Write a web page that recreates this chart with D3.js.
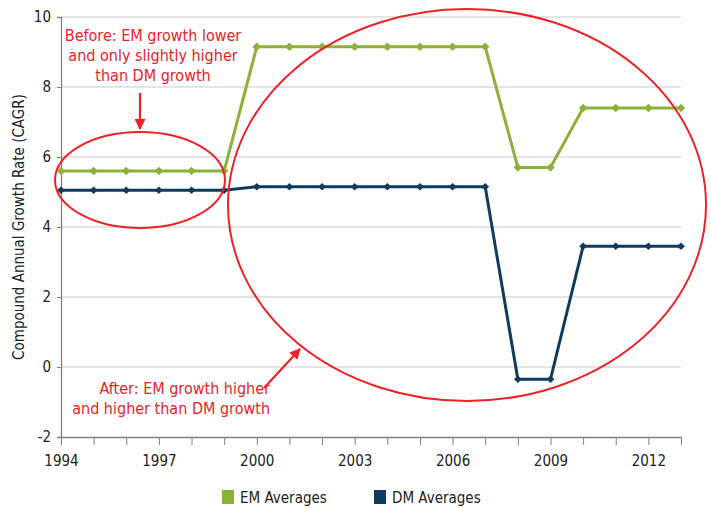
<!DOCTYPE html>
<html>
<head>
<meta charset="utf-8">
<script src="https://cdn.jsdelivr.net/npm/d3@7"></script>
<style>
  body { margin: 0; background: #fff; }
  text { font-family: "Liberation Sans Narrow", "DejaVu Sans Condensed", "Liberation Sans", sans-serif; }
</style>
</head>
<body>
<svg width="711" height="508"></svg>
<script>
// data
var years = d3.range(1994, 2014);
var emValues = [5.6, 5.6, 5.6, 5.6, 5.6, 5.6, 9.15, 9.15, 9.15, 9.15, 9.15, 9.15, 9.15, 9.15, 5.7, 5.7, 7.4, 7.4, 7.4, 7.4];
var dmValues = [5.05, 5.05, 5.05, 5.05, 5.05, 5.05, 5.15, 5.15, 5.15, 5.15, 5.15, 5.15, 5.15, 5.15, -0.35, -0.35, 3.45, 3.45, 3.45, 3.45];
var yTicks = [-2, 0, 2, 4, 6, 8, 10];
var xTickLabels = [1994, 1997, 2000, 2003, 2006, 2009, 2012];
var seriesNames = ["EM Averages", "DM Averages"];
var colors = ["#8cb13a", "#0f3b5f"];
var red = "#ec2227";

var svg = d3.select("svg");
var margin = { top: 17, right: 30, bottom: 71, left: 61 };
var width = 711 - margin.left - margin.right;
var height = 508 - margin.top - margin.bottom;

var chart = svg.append("g")
  .attr("transform", `translate(${margin.left}, ${margin.top})`);

var x = d3.scaleLinear().domain([1994, 2013]).range([0, width]);
var y = d3.scaleLinear().domain([-2, 10]).range([height, 0]);

// grid
chart.append("g")
  .selectAll("line")
  .data(yTicks.filter(d => d > -2))
  .enter().append("line")
  .attr("x1", 0).attr("x2", width)
  .attr("y1", d => y(d)).attr("y2", d => y(d))
  .attr("stroke", "#c9c9c9").attr("stroke-width", 1.2);

// axes
var yAxis = chart.append("g")
  .call(d3.axisLeft(y).tickValues(yTicks).tickSize(4).tickFormat(d => String(d)));
yAxis.select(".domain").attr("stroke", "#808080").attr("stroke-width", 1.3);
yAxis.selectAll(".tick line").attr("stroke", "#808080");
yAxis.selectAll("text").attr("font-size", 15).attr("fill", "#222").attr("dx", "-3");

var xAxis = chart.append("g")
  .attr("transform", "translate(0," + height + ")")
  .call(d3.axisBottom(x).tickValues(years).tickSize(8).tickSizeOuter(0)
    .tickFormat(d => xTickLabels.includes(d) ? d : ""));
xAxis.select(".domain").attr("stroke", "#808080").attr("stroke-width", 1.3);
xAxis.selectAll(".tick line").attr("stroke", "#808080");
xAxis.selectAll("text").attr("font-size", 15).attr("fill", "#222").attr("dy", "1.2em");

// lines
[emValues, dmValues].forEach(function (vals, i) {
  var pts = years.map((yr, j) => [yr, vals[j]]);
  chart.append("path")
    .datum(pts)
    .attr("fill", "none")
    .attr("stroke", colors[i])
    .attr("stroke-width", 3)
    .attr("d", d3.line().x(d => x(d[0])).y(d => y(d[1])));
  chart.append("g")
    .selectAll("path")
    .data(pts)
    .enter().append("path")
    .attr("transform", d => `translate(${x(d[0])},${y(d[1])}) rotate(45)`)
    .attr("d", d3.symbol().type(d3.symbolSquare).size(i === 0 ? 36 : 30))
    .attr("fill", colors[i]);
});

// annotations
svg.append("ellipse")
  .attr("cx", 140).attr("cy", 180).attr("rx", 85).attr("ry", 48)
  .attr("fill", "none").attr("stroke", red).attr("stroke-width", 2);
svg.append("ellipse")
  .attr("cx", 467).attr("cy", 205).attr("rx", 239).attr("ry", 196)
  .attr("fill", "none").attr("stroke", red).attr("stroke-width", 2);

svg.append("defs").append("marker")
  .attr("id", "arrow").attr("viewBox", "0 0 10 10")
  .attr("refX", 9).attr("refY", 5)
  .attr("markerWidth", 5).attr("markerHeight", 5)
  .attr("markerUnits", "strokeWidth")
  .attr("orient", "auto")
  .append("path").attr("d", "M0,0L10,5L0,10Z").attr("fill", red);

svg.append("line")
  .attr("x1", 140).attr("y1", 93).attr("x2", 140).attr("y2", 129)
  .attr("stroke", red).attr("stroke-width", 2.2).attr("marker-end", "url(#arrow)");
svg.append("line")
  .attr("x1", 264).attr("y1", 388).attr("x2", 300).attr("y2", 349)
  .attr("stroke", red).attr("stroke-width", 2.2).attr("marker-end", "url(#arrow)");

var before = ["Before: EM growth lower", "and only slightly higher", "than DM growth"];
svg.append("g").selectAll("text").data(before).enter().append("text")
  .attr("x", 153).attr("y", (d, i) => 41 + i * 20)
  .attr("text-anchor", "middle").attr("font-size", 16).attr("fill", red)
  .text(d => d);

var after = ["After: EM growth higher", "and higher than DM growth"];
svg.append("g").selectAll("text").data(after).enter().append("text")
  .attr("x", 270).attr("y", (d, i) => 394 + i * 20)
  .attr("text-anchor", "end").attr("font-size", 16).attr("fill", red)
  .text(d => d);

// y title
svg.append("text")
  .attr("transform", "translate(24," + (margin.top + height / 2) + ") rotate(-90)")
  .attr("text-anchor", "middle").attr("font-size", 15).attr("fill", "#222")
  .text("Compound Annual Growth Rate (CAGR)");

// legend
var legend = svg.append("g").attr("transform", "translate(0,497)");
var legendX = [222, 374];
seriesNames.forEach(function (name, i) {
  legend.append("rect")
    .attr("x", legendX[i]).attr("y", -7).attr("width", 12).attr("height", 14)
    .attr("fill", colors[i]);
  legend.append("text")
    .attr("x", legendX[i] + 18).attr("y", 6)
    .attr("font-size", 15).attr("fill", "#222")
    .text(name);
});
</script>
</body>
</html>
